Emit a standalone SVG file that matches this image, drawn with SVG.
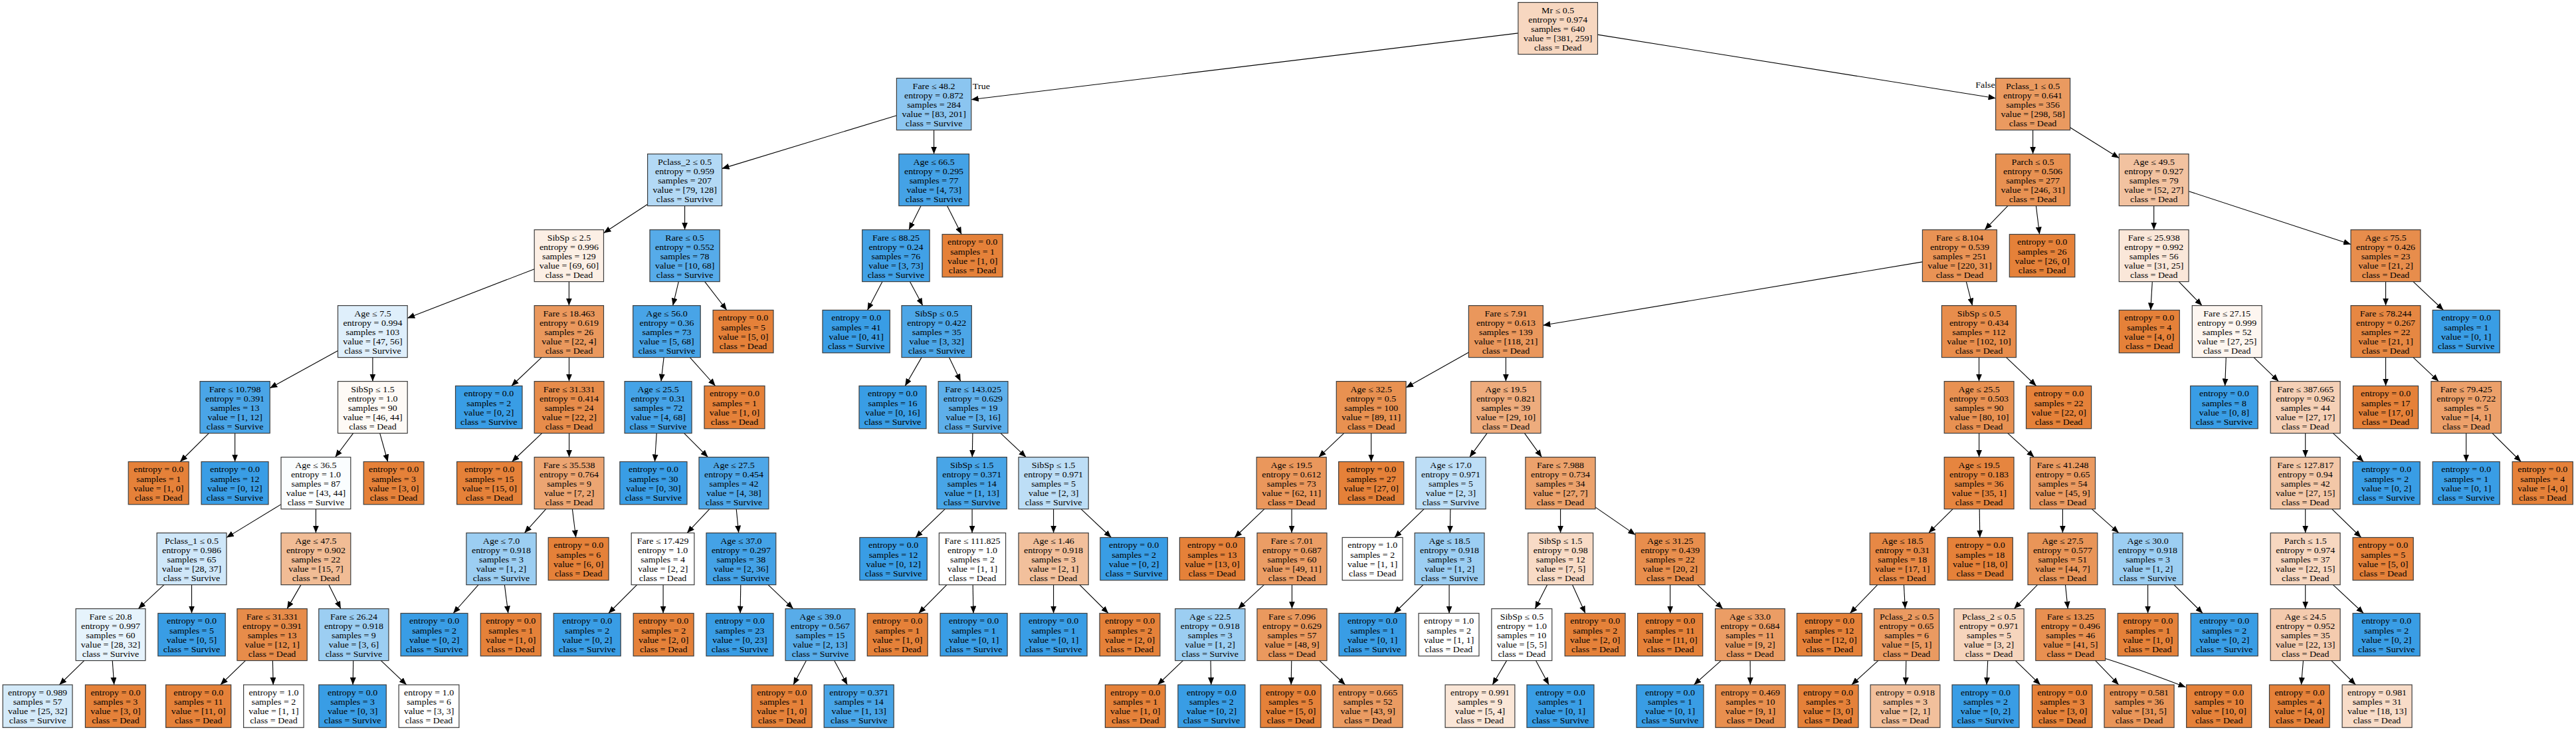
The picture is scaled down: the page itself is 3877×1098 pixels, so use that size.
<svg xmlns="http://www.w3.org/2000/svg" width="3877" height="1098" viewBox="0 0 3877 1098">
<defs>
<marker id="ah" markerUnits="userSpaceOnUse" markerWidth="11" markerHeight="9" refX="11" refY="4.5" orient="auto"><path d="M0,0 L11,4.5 L0,9 z" fill="#000"/></marker>
<style>
.n rect{stroke:#3c3c3c;stroke-width:1.2}
text{font-family:"Liberation Serif","Times New Roman",serif;font-size:14px;text-anchor:middle;fill:#000}
.e path{fill:none;stroke:#000;stroke-width:1.1;marker-end:url(#ah)}
.D{fill:#e58139}.S{fill:#399de5}.W{fill:#ffffff}
</style>
</defs>
<rect width="3877" height="1098" fill="#fff"/>
<g id="edges" class="e">
<path d="M2284.9,49.9L1461.8,149.8"/><path d="M2404.5,52.1L3003.6,147.7"/>
<path d="M1349.4,173.7L1086.6,253.6"/><path d="M1405.6,195.6L1405.6,231.6"/>
<path d="M3059.6,195.6L3059.6,231.6"/><path d="M3115.6,191.7L3189.3,237.8"/>
<path d="M974.6,307.2L908.5,350.5"/><path d="M1030.6,309.6L1030.6,345.6"/>
<path d="M1386.1,309.6L1368,345.6"/><path d="M1425.5,309.6L1447.2,352.5"/>
<path d="M3021.9,309.6L2987.1,345.6"/><path d="M3064.4,309.6L3069.6,352.5"/>
<path d="M3241.7,309.6L3241.7,345.6"/><path d="M3294.1,287.7L3538.1,367.5"/>
<path d="M804.2,404.7L613.2,478.4"/><path d="M856.4,423.6L856.4,459.6"/>
<path d="M1021.3,423.6L1012.7,459.6"/><path d="M1060.7,423.6L1093.8,466.5"/>
<path d="M1328,423.6L1305.5,466.5"/><path d="M1369.4,423.6L1388.7,459.6"/>
<path d="M2893.4,393.9L2322.4,489.3"/><path d="M2959.3,423.6L2968.5,459.6"/>
<path d="M3239.3,423.6L3236.8,466.5"/><path d="M3279.3,423.6L3314.1,459.6"/>
<path d="M3590.6,423.6L3590.6,459.6"/><path d="M3632,423.6L3677.5,466.5"/>
<path d="M508.5,527.4L406.2,583.7"/><path d="M560.9,537.6L560.9,573.6"/>
<path d="M815.1,537.6L769.8,580.5"/><path d="M856.5,537.6L856.5,573.6"/>
<path d="M999.1,537.6L995,573.6"/><path d="M1038.4,537.6L1076.7,580.5"/>
<path d="M1387,537.6L1362.2,580.5"/><path d="M1428.5,537.6L1445.8,573.6"/>
<path d="M2210.4,530.1L2116.1,583.1"/><path d="M2266.4,537.6L2266.4,573.6"/>
<path d="M2978.5,537.6L2978.5,573.6"/><path d="M3019.5,537.6L3064.7,580.5"/>
<path d="M3350.3,537.6L3348.7,580.5"/><path d="M3392.1,537.6L3429.4,573.6"/>
<path d="M3590.6,537.6L3590.6,580.5"/><path d="M3632,537.6L3670.3,573.6"/>
<path d="M314.3,651.6L271.1,694.5"/><path d="M353.6,651.6L353.6,694.5"/>
<path d="M531.6,651.6L504.6,687.6"/><path d="M571.7,651.6L583.7,694.5"/>
<path d="M815.6,651.6L770.5,694.5"/><path d="M856.6,651.6L856.6,687.6"/>
<path d="M988.2,651.6L985.5,694.5"/><path d="M1029.6,651.6L1065.5,687.6"/>
<path d="M1463.9,651.6L1463.3,687.6"/><path d="M1506,651.6L1544.2,687.6"/>
<path d="M2022.7,651.6L1984.8,687.6"/><path d="M2063.7,651.6L2063.7,694.5"/>
<path d="M2238.1,651.6L2211.9,687.6"/><path d="M2294.5,651.6L2320.4,687.6"/>
<path d="M2978.6,651.6L2978.6,687.6"/><path d="M3021.7,651.6L3061.4,687.6"/>
<path d="M3469.7,651.6L3469.7,687.6"/><path d="M3511.4,651.6L3557.3,694.5"/>
<path d="M3711.7,651.6L3711.7,694.5"/><path d="M3751.1,651.6L3794.3,694.5"/>
<path d="M423,758.6L340.9,808.6"/><path d="M475.4,765.6L475.4,801.6"/>
<path d="M821.7,765.6L789.4,801.6"/><path d="M861.4,765.6L866.7,808.5"/>
<path d="M1067.9,765.6L1034.1,801.6"/><path d="M1108.2,765.6L1111.7,801.6"/>
<path d="M1422.3,765.6L1377.9,808.5"/><path d="M1463.1,765.6L1463.1,801.6"/>
<path d="M1585.6,765.6L1585.6,801.6"/><path d="M1627,765.6L1672.5,808.5"/>
<path d="M1902.9,765.6L1858.1,808.5"/><path d="M1944.1,765.6L1944.1,801.6"/>
<path d="M2143.2,765.6L2098.9,808.5"/><path d="M2182.9,765.6L2182.3,801.6"/>
<path d="M2348.6,765.6L2348.6,801.6"/><path d="M2401.1,762.9L2461.3,804.4"/>
<path d="M2939.1,765.6L2902.7,801.6"/><path d="M2979.2,765.6L2979.8,808.5"/>
<path d="M3104.4,765.6L3104.4,801.6"/><path d="M3148.3,765.6L3188.8,801.6"/>
<path d="M3469.7,765.6L3469.7,801.6"/><path d="M3509.7,765.6L3553.7,808.5"/>
<path d="M246.8,879.6L208.2,915.6"/><path d="M288.5,879.6L288.5,922.5"/>
<path d="M452.9,879.6L432.1,915.6"/><path d="M494.9,879.6L512.9,915.6"/>
<path d="M720,879.6L682.1,922.5"/><path d="M759.4,879.6L764.8,922.5"/>
<path d="M958.6,879.6L915.8,922.5"/><path d="M998.1,879.6L998.1,922.5"/>
<path d="M1114.8,879.6L1114.1,922.5"/><path d="M1156.1,879.6L1193.8,915.6"/>
<path d="M1424.9,879.6L1382.6,922.5"/><path d="M1464.2,879.6L1465,922.5"/>
<path d="M1585.6,879.6L1585.6,922.5"/><path d="M1624.9,879.6L1668.1,922.5"/>
<path d="M1902.4,879.6L1863.5,915.6"/><path d="M1944.5,879.6L1944.5,915.6"/>
<path d="M2141.9,879.6L2098.3,922.5"/><path d="M2181.1,879.6L2181.1,922.5"/>
<path d="M2328.7,879.6L2310.4,915.6"/><path d="M2366.5,879.6L2386,922.5"/>
<path d="M2513.7,879.6L2513.7,922.5"/><path d="M2554.8,879.6L2592.8,915.6"/>
<path d="M2825.7,879.6L2784.4,922.5"/><path d="M2865.4,879.6L2867.4,915.6"/>
<path d="M3066.5,879.6L3031.4,915.6"/><path d="M3108.5,879.6L3112.2,915.6"/>
<path d="M3232.6,879.6L3232.6,922.5"/><path d="M3272,879.6L3315.2,922.5"/>
<path d="M3469.7,879.6L3469.7,915.6"/><path d="M3511.4,879.6L3557.3,922.5"/>
<path d="M126.7,993.6L89.4,1030"/><path d="M169.2,993.6L171.7,1030"/>
<path d="M369.4,993.6L331.8,1030"/><path d="M410.4,993.6L411.2,1030"/>
<path d="M531.7,993.6L531.1,1030"/><path d="M573.4,993.6L611.8,1030"/>
<path d="M1213.5,993.6L1194,1030"/><path d="M1255.6,993.6L1275.3,1030"/>
<path d="M1780.5,993.6L1742.3,1030"/><path d="M1822.1,993.6L1822.8,1030"/>
<path d="M1943.8,993.6L1943.2,1030"/><path d="M1985.9,993.6L2024.6,1030"/>
<path d="M2267.6,993.6L2246.3,1030"/><path d="M2311.5,993.6L2331.1,1030"/>
<path d="M2590.3,993.6L2549.5,1030"/><path d="M2634.1,993.6L2634.3,1030"/>
<path d="M2826.8,993.6L2786.8,1030"/><path d="M2868.8,993.6L2868.1,1030"/>
<path d="M2991.7,993.6L2990,1030"/><path d="M3033.4,993.6L3070.8,1030"/>
<path d="M3153.7,993.6L3188.7,1030"/><path d="M3168.6,990.5Q3215,1005 3289.5,1033.5"/>
<path d="M3466.5,993.6L3463.5,1030"/><path d="M3508.8,993.6L3545.3,1030"/>
<text transform="translate(1477 134) scale(1 .84)">True</text>
<text transform="translate(2988 132) scale(1 .84)">False</text>
</g>
<g id="n0" class="n"><rect x="2284.9" y="3.6" width="119.6" height="78" fill="#f7d7c0"/><text transform="translate(2344.7 3.6) scale(1 .84)"><tspan x="0" y="19">Mr ≤ 0.5</tspan><tspan x="0" y="35.8">entropy = 0.974</tspan><tspan x="0" y="52.6">samples = 640</tspan><tspan x="0" y="69.4">value = [381, 259]</tspan><tspan x="0" y="86.2">class = Dead</tspan></text></g>
<g id="n1" class="n"><rect x="1349.4" y="117.6" width="112.4" height="78" fill="#8bc5f0"/><text transform="translate(1405.6 117.6) scale(1 .84)"><tspan x="0" y="19">Fare ≤ 48.2</tspan><tspan x="0" y="35.8">entropy = 0.872</tspan><tspan x="0" y="52.6">samples = 284</tspan><tspan x="0" y="69.4">value = [83, 201]</tspan><tspan x="0" y="86.2">class = Survive</tspan></text></g>
<g id="n2" class="n"><rect x="3003.6" y="117.6" width="112" height="78" fill="#ea9a60"/><text transform="translate(3059.6 117.6) scale(1 .84)"><tspan x="0" y="19">Pclass_1 ≤ 0.5</tspan><tspan x="0" y="35.8">entropy = 0.641</tspan><tspan x="0" y="52.6">samples = 356</tspan><tspan x="0" y="69.4">value = [298, 58]</tspan><tspan x="0" y="86.2">class = Dead</tspan></text></g>
<g id="n3" class="n"><rect x="974.6" y="231.6" width="112" height="78" fill="#b3d9f5"/><text transform="translate(1030.6 231.6) scale(1 .84)"><tspan x="0" y="19">Pclass_2 ≤ 0.5</tspan><tspan x="0" y="35.8">entropy = 0.959</tspan><tspan x="0" y="52.6">samples = 207</tspan><tspan x="0" y="69.4">value = [79, 128]</tspan><tspan x="0" y="86.2">class = Survive</tspan></text></g>
<g id="n4" class="n"><rect x="1352.8" y="231.6" width="105.7" height="78" fill="#44a2e6"/><text transform="translate(1405.6 231.6) scale(1 .84)"><tspan x="0" y="19">Age ≤ 66.5</tspan><tspan x="0" y="35.8">entropy = 0.295</tspan><tspan x="0" y="52.6">samples = 77</tspan><tspan x="0" y="69.4">value = [4, 73]</tspan><tspan x="0" y="86.2">class = Survive</tspan></text></g>
<g id="n5" class="n"><rect x="3003.6" y="231.6" width="112" height="78" fill="#e89152"/><text transform="translate(3059.6 231.6) scale(1 .84)"><tspan x="0" y="19">Parch ≤ 0.5</tspan><tspan x="0" y="35.8">entropy = 0.506</tspan><tspan x="0" y="52.6">samples = 277</tspan><tspan x="0" y="69.4">value = [246, 31]</tspan><tspan x="0" y="86.2">class = Dead</tspan></text></g>
<g id="n6" class="n"><rect x="3189.3" y="231.6" width="104.8" height="78" fill="#f2c2a0"/><text transform="translate(3241.7 231.6) scale(1 .84)"><tspan x="0" y="19">Age ≤ 49.5</tspan><tspan x="0" y="35.8">entropy = 0.927</tspan><tspan x="0" y="52.6">samples = 79</tspan><tspan x="0" y="69.4">value = [52, 27]</tspan><tspan x="0" y="86.2">class = Dead</tspan></text></g>
<g id="n7" class="n"><rect x="804.2" y="345.6" width="104.3" height="78" fill="#fcefe5"/><text transform="translate(856.4 345.6) scale(1 .84)"><tspan x="0" y="19">SibSp ≤ 2.5</tspan><tspan x="0" y="35.8">entropy = 0.996</tspan><tspan x="0" y="52.6">samples = 129</tspan><tspan x="0" y="69.4">value = [69, 60]</tspan><tspan x="0" y="86.2">class = Dead</tspan></text></g>
<g id="n8" class="n"><rect x="978" y="345.6" width="105.2" height="78" fill="#56abe9"/><text transform="translate(1030.6 345.6) scale(1 .84)"><tspan x="0" y="19">Rare ≤ 0.5</tspan><tspan x="0" y="35.8">entropy = 0.552</tspan><tspan x="0" y="52.6">samples = 78</tspan><tspan x="0" y="69.4">value = [10, 68]</tspan><tspan x="0" y="86.2">class = Survive</tspan></text></g>
<g id="n9" class="n"><rect x="1297.7" y="345.6" width="101.4" height="78" fill="#41a1e6"/><text transform="translate(1348.4 345.6) scale(1 .84)"><tspan x="0" y="19">Fare ≤ 88.25</tspan><tspan x="0" y="35.8">entropy = 0.24</tspan><tspan x="0" y="52.6">samples = 76</tspan><tspan x="0" y="69.4">value = [3, 73]</tspan><tspan x="0" y="86.2">class = Survive</tspan></text></g>
<g id="n10" class="n"><rect class="D" x="1418.1" y="352.45" width="90.9" height="64.3"/><text transform="translate(1463.6 352.45) scale(1 .84)"><tspan x="0" y="19">entropy = 0.0</tspan><tspan x="0" y="35.8">samples = 1</tspan><tspan x="0" y="52.6">value = [1, 0]</tspan><tspan x="0" y="69.4">class = Dead</tspan></text></g>
<g id="n11" class="n"><rect x="2893.4" y="345.6" width="111.9" height="78" fill="#e99355"/><text transform="translate(2949.4 345.6) scale(1 .84)"><tspan x="0" y="19">Fare ≤ 8.104</tspan><tspan x="0" y="35.8">entropy = 0.539</tspan><tspan x="0" y="52.6">samples = 251</tspan><tspan x="0" y="69.4">value = [220, 31]</tspan><tspan x="0" y="86.2">class = Dead</tspan></text></g>
<g id="n12" class="n"><rect class="D" x="3024.3" y="352.45" width="98.5" height="64.3"/><text transform="translate(3073.6 352.45) scale(1 .84)"><tspan x="0" y="19">entropy = 0.0</tspan><tspan x="0" y="35.8">samples = 26</tspan><tspan x="0" y="52.6">value = [26, 0]</tspan><tspan x="0" y="69.4">class = Dead</tspan></text></g>
<g id="n13" class="n"><rect x="3189.3" y="345.6" width="104.8" height="78" fill="#fae7d9"/><text transform="translate(3241.7 345.6) scale(1 .84)"><tspan x="0" y="19">Fare ≤ 25.938</tspan><tspan x="0" y="35.8">entropy = 0.992</tspan><tspan x="0" y="52.6">samples = 56</tspan><tspan x="0" y="69.4">value = [31, 25]</tspan><tspan x="0" y="86.2">class = Dead</tspan></text></g>
<g id="n14" class="n"><rect x="3538.1" y="345.6" width="104.9" height="78" fill="#e78d4c"/><text transform="translate(3590.6 345.6) scale(1 .84)"><tspan x="0" y="19">Age ≤ 75.5</tspan><tspan x="0" y="35.8">entropy = 0.426</tspan><tspan x="0" y="52.6">samples = 23</tspan><tspan x="0" y="69.4">value = [21, 2]</tspan><tspan x="0" y="86.2">class = Dead</tspan></text></g>
<g id="n15" class="n"><rect x="508.5" y="459.6" width="104.7" height="78" fill="#dfeffb"/><text transform="translate(560.9 459.6) scale(1 .84)"><tspan x="0" y="19">Age ≤ 7.5</tspan><tspan x="0" y="35.8">entropy = 0.994</tspan><tspan x="0" y="52.6">samples = 103</tspan><tspan x="0" y="69.4">value = [47, 56]</tspan><tspan x="0" y="86.2">class = Survive</tspan></text></g>
<g id="n16" class="n"><rect x="804.2" y="459.6" width="104.3" height="78" fill="#ea985d"/><text transform="translate(856.4 459.6) scale(1 .84)"><tspan x="0" y="19">Fare ≤ 18.463</tspan><tspan x="0" y="35.8">entropy = 0.619</tspan><tspan x="0" y="52.6">samples = 26</tspan><tspan x="0" y="69.4">value = [22, 4]</tspan><tspan x="0" y="86.2">class = Dead</tspan></text></g>
<g id="n17" class="n"><rect x="952.7" y="459.6" width="101.5" height="78" fill="#48a4e7"/><text transform="translate(1003.5 459.6) scale(1 .84)"><tspan x="0" y="19">Age ≤ 56.0</tspan><tspan x="0" y="35.8">entropy = 0.36</tspan><tspan x="0" y="52.6">samples = 73</tspan><tspan x="0" y="69.4">value = [5, 68]</tspan><tspan x="0" y="86.2">class = Survive</tspan></text></g>
<g id="n18" class="n"><rect class="D" x="1073.1" y="466.45" width="90.9" height="64.3"/><text transform="translate(1118.6 466.45) scale(1 .84)"><tspan x="0" y="19">entropy = 0.0</tspan><tspan x="0" y="35.8">samples = 5</tspan><tspan x="0" y="52.6">value = [5, 0]</tspan><tspan x="0" y="69.4">class = Dead</tspan></text></g>
<g id="n19" class="n"><rect class="S" x="1238" y="466.45" width="101.3" height="64.3"/><text transform="translate(1288.7 466.45) scale(1 .84)"><tspan x="0" y="19">entropy = 0.0</tspan><tspan x="0" y="35.8">samples = 41</tspan><tspan x="0" y="52.6">value = [0, 41]</tspan><tspan x="0" y="69.4">class = Survive</tspan></text></g>
<g id="n20" class="n"><rect x="1357" y="459.6" width="105.3" height="78" fill="#4ca6e7"/><text transform="translate(1409.7 459.6) scale(1 .84)"><tspan x="0" y="19">SibSp ≤ 0.5</tspan><tspan x="0" y="35.8">entropy = 0.422</tspan><tspan x="0" y="52.6">samples = 35</tspan><tspan x="0" y="69.4">value = [3, 32]</tspan><tspan x="0" y="86.2">class = Survive</tspan></text></g>
<g id="n21" class="n"><rect x="2210.4" y="459.6" width="112" height="78" fill="#ea975c"/><text transform="translate(2266.4 459.6) scale(1 .84)"><tspan x="0" y="19">Fare ≤ 7.91</tspan><tspan x="0" y="35.8">entropy = 0.613</tspan><tspan x="0" y="52.6">samples = 139</tspan><tspan x="0" y="69.4">value = [118, 21]</tspan><tspan x="0" y="86.2">class = Dead</tspan></text></g>
<g id="n22" class="n"><rect x="2922.4" y="459.6" width="112" height="78" fill="#e88d4c"/><text transform="translate(2978.4 459.6) scale(1 .84)"><tspan x="0" y="19">SibSp ≤ 0.5</tspan><tspan x="0" y="35.8">entropy = 0.434</tspan><tspan x="0" y="52.6">samples = 112</tspan><tspan x="0" y="69.4">value = [102, 10]</tspan><tspan x="0" y="86.2">class = Dead</tspan></text></g>
<g id="n23" class="n"><rect class="D" x="3189.3" y="466.45" width="91" height="64.3"/><text transform="translate(3234.8 466.45) scale(1 .84)"><tspan x="0" y="19">entropy = 0.0</tspan><tspan x="0" y="35.8">samples = 4</tspan><tspan x="0" y="52.6">value = [4, 0]</tspan><tspan x="0" y="69.4">class = Dead</tspan></text></g>
<g id="n24" class="n"><rect x="3299.3" y="459.6" width="104.9" height="78" fill="#fdf6f0"/><text transform="translate(3351.8 459.6) scale(1 .84)"><tspan x="0" y="19">Fare ≤ 27.15</tspan><tspan x="0" y="35.8">entropy = 0.999</tspan><tspan x="0" y="52.6">samples = 52</tspan><tspan x="0" y="69.4">value = [27, 25]</tspan><tspan x="0" y="86.2">class = Dead</tspan></text></g>
<g id="n25" class="n"><rect x="3538.1" y="459.6" width="104.9" height="78" fill="#e68742"/><text transform="translate(3590.6 459.6) scale(1 .84)"><tspan x="0" y="19">Fare ≤ 78.244</tspan><tspan x="0" y="35.8">entropy = 0.267</tspan><tspan x="0" y="52.6">samples = 22</tspan><tspan x="0" y="69.4">value = [21, 1]</tspan><tspan x="0" y="86.2">class = Dead</tspan></text></g>
<g id="n26" class="n"><rect class="S" x="3661.2" y="466.45" width="101" height="64.3"/><text transform="translate(3711.7 466.45) scale(1 .84)"><tspan x="0" y="19">entropy = 0.0</tspan><tspan x="0" y="35.8">samples = 1</tspan><tspan x="0" y="52.6">value = [0, 1]</tspan><tspan x="0" y="69.4">class = Survive</tspan></text></g>
<g id="n27" class="n"><rect x="301" y="573.6" width="105.2" height="78" fill="#4aa5e7"/><text transform="translate(353.6 573.6) scale(1 .84)"><tspan x="0" y="19">Fare ≤ 10.798</tspan><tspan x="0" y="35.8">entropy = 0.391</tspan><tspan x="0" y="52.6">samples = 13</tspan><tspan x="0" y="69.4">value = [1, 12]</tspan><tspan x="0" y="86.2">class = Survive</tspan></text></g>
<g id="n28" class="n"><rect x="508.5" y="573.6" width="104.7" height="78" fill="#fefaf6"/><text transform="translate(560.9 573.6) scale(1 .84)"><tspan x="0" y="19">SibSp ≤ 1.5</tspan><tspan x="0" y="35.8">entropy = 1.0</tspan><tspan x="0" y="52.6">samples = 90</tspan><tspan x="0" y="69.4">value = [46, 44]</tspan><tspan x="0" y="86.2">class = Dead</tspan></text></g>
<g id="n29" class="n"><rect class="S" x="685.5" y="580.45" width="100.5" height="64.3"/><text transform="translate(735.8 580.45) scale(1 .84)"><tspan x="0" y="19">entropy = 0.0</tspan><tspan x="0" y="35.8">samples = 2</tspan><tspan x="0" y="52.6">value = [0, 2]</tspan><tspan x="0" y="69.4">class = Survive</tspan></text></g>
<g id="n30" class="n"><rect x="804.2" y="573.6" width="104.8" height="78" fill="#e78c4b"/><text transform="translate(856.6 573.6) scale(1 .84)"><tspan x="0" y="19">Fare ≤ 31.331</tspan><tspan x="0" y="35.8">entropy = 0.414</tspan><tspan x="0" y="52.6">samples = 24</tspan><tspan x="0" y="69.4">value = [22, 2]</tspan><tspan x="0" y="86.2">class = Dead</tspan></text></g>
<g id="n31" class="n"><rect x="940.1" y="573.6" width="101" height="78" fill="#45a3e7"/><text transform="translate(990.6 573.6) scale(1 .84)"><tspan x="0" y="19">Age ≤ 25.5</tspan><tspan x="0" y="35.8">entropy = 0.31</tspan><tspan x="0" y="52.6">samples = 72</tspan><tspan x="0" y="69.4">value = [4, 68]</tspan><tspan x="0" y="86.2">class = Survive</tspan></text></g>
<g id="n32" class="n"><rect class="D" x="1060" y="580.45" width="91" height="64.3"/><text transform="translate(1105.5 580.45) scale(1 .84)"><tspan x="0" y="19">entropy = 0.0</tspan><tspan x="0" y="35.8">samples = 1</tspan><tspan x="0" y="52.6">value = [1, 0]</tspan><tspan x="0" y="69.4">class = Dead</tspan></text></g>
<g id="n33" class="n"><rect class="S" x="1293" y="580.45" width="101" height="64.3"/><text transform="translate(1343.5 580.45) scale(1 .84)"><tspan x="0" y="19">entropy = 0.0</tspan><tspan x="0" y="35.8">samples = 16</tspan><tspan x="0" y="52.6">value = [0, 16]</tspan><tspan x="0" y="69.4">class = Survive</tspan></text></g>
<g id="n34" class="n"><rect x="1412.2" y="573.6" width="104.8" height="78" fill="#5eafea"/><text transform="translate(1464.6 573.6) scale(1 .84)"><tspan x="0" y="19">Fare ≤ 143.025</tspan><tspan x="0" y="35.8">entropy = 0.629</tspan><tspan x="0" y="52.6">samples = 19</tspan><tspan x="0" y="69.4">value = [3, 16]</tspan><tspan x="0" y="86.2">class = Survive</tspan></text></g>
<g id="n35" class="n"><rect x="2011.3" y="573.6" width="104.8" height="78" fill="#e89151"/><text transform="translate(2063.7 573.6) scale(1 .84)"><tspan x="0" y="19">Age ≤ 32.5</tspan><tspan x="0" y="35.8">entropy = 0.5</tspan><tspan x="0" y="52.6">samples = 100</tspan><tspan x="0" y="69.4">value = [89, 11]</tspan><tspan x="0" y="86.2">class = Dead</tspan></text></g>
<g id="n36" class="n"><rect x="2213.8" y="573.6" width="105.2" height="78" fill="#eeac7d"/><text transform="translate(2266.4 573.6) scale(1 .84)"><tspan x="0" y="19">Age ≤ 19.5</tspan><tspan x="0" y="35.8">entropy = 0.821</tspan><tspan x="0" y="52.6">samples = 39</tspan><tspan x="0" y="69.4">value = [29, 10]</tspan><tspan x="0" y="86.2">class = Dead</tspan></text></g>
<g id="n37" class="n"><rect x="2926.2" y="573.6" width="104.8" height="78" fill="#e89152"/><text transform="translate(2978.6 573.6) scale(1 .84)"><tspan x="0" y="19">Age ≤ 25.5</tspan><tspan x="0" y="35.8">entropy = 0.503</tspan><tspan x="0" y="52.6">samples = 90</tspan><tspan x="0" y="69.4">value = [80, 10]</tspan><tspan x="0" y="86.2">class = Dead</tspan></text></g>
<g id="n38" class="n"><rect class="D" x="3049.5" y="580.45" width="98.1" height="64.3"/><text transform="translate(3098.6 580.45) scale(1 .84)"><tspan x="0" y="19">entropy = 0.0</tspan><tspan x="0" y="35.8">samples = 22</tspan><tspan x="0" y="52.6">value = [22, 0]</tspan><tspan x="0" y="69.4">class = Dead</tspan></text></g>
<g id="n39" class="n"><rect class="S" x="3296.7" y="580.45" width="101.5" height="64.3"/><text transform="translate(3347.5 580.45) scale(1 .84)"><tspan x="0" y="19">entropy = 0.0</tspan><tspan x="0" y="35.8">samples = 8</tspan><tspan x="0" y="52.6">value = [0, 8]</tspan><tspan x="0" y="69.4">class = Survive</tspan></text></g>
<g id="n40" class="n"><rect x="3417.2" y="573.6" width="104.9" height="78" fill="#f5d0b6"/><text transform="translate(3469.7 573.6) scale(1 .84)"><tspan x="0" y="19">Fare ≤ 387.665</tspan><tspan x="0" y="35.8">entropy = 0.962</tspan><tspan x="0" y="52.6">samples = 44</tspan><tspan x="0" y="69.4">value = [27, 17]</tspan><tspan x="0" y="86.2">class = Dead</tspan></text></g>
<g id="n41" class="n"><rect class="D" x="3541.5" y="580.45" width="98.1" height="64.3"/><text transform="translate(3590.6 580.45) scale(1 .84)"><tspan x="0" y="19">entropy = 0.0</tspan><tspan x="0" y="35.8">samples = 17</tspan><tspan x="0" y="52.6">value = [17, 0]</tspan><tspan x="0" y="69.4">class = Dead</tspan></text></g>
<g id="n42" class="n"><rect x="3659" y="573.6" width="105.4" height="78" fill="#eca06a"/><text transform="translate(3711.7 573.6) scale(1 .84)"><tspan x="0" y="19">Fare ≤ 79.425</tspan><tspan x="0" y="35.8">entropy = 0.722</tspan><tspan x="0" y="52.6">samples = 5</tspan><tspan x="0" y="69.4">value = [4, 1]</tspan><tspan x="0" y="86.2">class = Dead</tspan></text></g>
<g id="n43" class="n"><rect class="D" x="193.2" y="694.45" width="90.9" height="64.3"/><text transform="translate(238.7 694.45) scale(1 .84)"><tspan x="0" y="19">entropy = 0.0</tspan><tspan x="0" y="35.8">samples = 1</tspan><tspan x="0" y="52.6">value = [1, 0]</tspan><tspan x="0" y="69.4">class = Dead</tspan></text></g>
<g id="n44" class="n"><rect class="S" x="303" y="694.45" width="101" height="64.3"/><text transform="translate(353.5 694.45) scale(1 .84)"><tspan x="0" y="19">entropy = 0.0</tspan><tspan x="0" y="35.8">samples = 12</tspan><tspan x="0" y="52.6">value = [0, 12]</tspan><tspan x="0" y="69.4">class = Survive</tspan></text></g>
<g id="n45" class="n"><rect x="423" y="687.6" width="104.8" height="78" fill="#fafdfe"/><text transform="translate(475.4 687.6) scale(1 .84)"><tspan x="0" y="19">Age ≤ 36.5</tspan><tspan x="0" y="35.8">entropy = 1.0</tspan><tspan x="0" y="52.6">samples = 87</tspan><tspan x="0" y="69.4">value = [43, 44]</tspan><tspan x="0" y="86.2">class = Survive</tspan></text></g>
<g id="n46" class="n"><rect class="D" x="547.2" y="694.45" width="90.8" height="64.3"/><text transform="translate(592.6 694.45) scale(1 .84)"><tspan x="0" y="19">entropy = 0.0</tspan><tspan x="0" y="35.8">samples = 3</tspan><tspan x="0" y="52.6">value = [3, 0]</tspan><tspan x="0" y="69.4">class = Dead</tspan></text></g>
<g id="n47" class="n"><rect class="D" x="687.6" y="694.45" width="98" height="64.3"/><text transform="translate(736.6 694.45) scale(1 .84)"><tspan x="0" y="19">entropy = 0.0</tspan><tspan x="0" y="35.8">samples = 15</tspan><tspan x="0" y="52.6">value = [15, 0]</tspan><tspan x="0" y="69.4">class = Dead</tspan></text></g>
<g id="n48" class="n"><rect x="804.2" y="687.6" width="104.8" height="78" fill="#eca572"/><text transform="translate(856.6 687.6) scale(1 .84)"><tspan x="0" y="19">Fare ≤ 35.538</tspan><tspan x="0" y="35.8">entropy = 0.764</tspan><tspan x="0" y="52.6">samples = 9</tspan><tspan x="0" y="69.4">value = [7, 2]</tspan><tspan x="0" y="86.2">class = Dead</tspan></text></g>
<g id="n49" class="n"><rect class="S" x="932.9" y="694.45" width="101.1" height="64.3"/><text transform="translate(983.5 694.45) scale(1 .84)"><tspan x="0" y="19">entropy = 0.0</tspan><tspan x="0" y="35.8">samples = 30</tspan><tspan x="0" y="52.6">value = [0, 30]</tspan><tspan x="0" y="69.4">class = Survive</tspan></text></g>
<g id="n50" class="n"><rect x="1052" y="687.6" width="104.9" height="78" fill="#4ea7e8"/><text transform="translate(1104.5 687.6) scale(1 .84)"><tspan x="0" y="19">Age ≤ 27.5</tspan><tspan x="0" y="35.8">entropy = 0.454</tspan><tspan x="0" y="52.6">samples = 42</tspan><tspan x="0" y="69.4">value = [4, 38]</tspan><tspan x="0" y="86.2">class = Survive</tspan></text></g>
<g id="n51" class="n"><rect x="1410" y="687.6" width="105.3" height="78" fill="#48a5e7"/><text transform="translate(1462.7 687.6) scale(1 .84)"><tspan x="0" y="19">SibSp ≤ 1.5</tspan><tspan x="0" y="35.8">entropy = 0.371</tspan><tspan x="0" y="52.6">samples = 14</tspan><tspan x="0" y="69.4">value = [1, 13]</tspan><tspan x="0" y="86.2">class = Survive</tspan></text></g>
<g id="n52" class="n"><rect x="1533" y="687.6" width="105.2" height="78" fill="#bddef6"/><text transform="translate(1585.6 687.6) scale(1 .84)"><tspan x="0" y="19">SibSp ≤ 1.5</tspan><tspan x="0" y="35.8">entropy = 0.971</tspan><tspan x="0" y="52.6">samples = 5</tspan><tspan x="0" y="69.4">value = [2, 3]</tspan><tspan x="0" y="86.2">class = Survive</tspan></text></g>
<g id="n53" class="n"><rect x="1891.2" y="687.6" width="105" height="78" fill="#ea975c"/><text transform="translate(1943.7 687.6) scale(1 .84)"><tspan x="0" y="19">Age ≤ 19.5</tspan><tspan x="0" y="35.8">entropy = 0.612</tspan><tspan x="0" y="52.6">samples = 73</tspan><tspan x="0" y="69.4">value = [62, 11]</tspan><tspan x="0" y="86.2">class = Dead</tspan></text></g>
<g id="n54" class="n"><rect class="D" x="2014.7" y="694.45" width="98.1" height="64.3"/><text transform="translate(2063.8 694.45) scale(1 .84)"><tspan x="0" y="19">entropy = 0.0</tspan><tspan x="0" y="35.8">samples = 27</tspan><tspan x="0" y="52.6">value = [27, 0]</tspan><tspan x="0" y="69.4">class = Dead</tspan></text></g>
<g id="n55" class="n"><rect x="2130.9" y="687.6" width="105.2" height="78" fill="#bddef6"/><text transform="translate(2183.5 687.6) scale(1 .84)"><tspan x="0" y="19">Age ≤ 17.0</tspan><tspan x="0" y="35.8">entropy = 0.971</tspan><tspan x="0" y="52.6">samples = 5</tspan><tspan x="0" y="69.4">value = [2, 3]</tspan><tspan x="0" y="86.2">class = Survive</tspan></text></g>
<g id="n56" class="n"><rect x="2295.9" y="687.6" width="105.2" height="78" fill="#eca26c"/><text transform="translate(2348.5 687.6) scale(1 .84)"><tspan x="0" y="19">Fare ≤ 7.988</tspan><tspan x="0" y="35.8">entropy = 0.734</tspan><tspan x="0" y="52.6">samples = 34</tspan><tspan x="0" y="69.4">value = [27, 7]</tspan><tspan x="0" y="86.2">class = Dead</tspan></text></g>
<g id="n57" class="n"><rect x="2926.2" y="687.6" width="104.8" height="78" fill="#e6853f"/><text transform="translate(2978.6 687.6) scale(1 .84)"><tspan x="0" y="19">Age ≤ 19.5</tspan><tspan x="0" y="35.8">entropy = 0.183</tspan><tspan x="0" y="52.6">samples = 36</tspan><tspan x="0" y="69.4">value = [35, 1]</tspan><tspan x="0" y="86.2">class = Dead</tspan></text></g>
<g id="n58" class="n"><rect x="3055.4" y="687.6" width="98.1" height="78" fill="#ea9a61"/><text transform="translate(3104.5 687.6) scale(1 .84)"><tspan x="0" y="19">Fare ≤ 41.248</tspan><tspan x="0" y="35.8">entropy = 0.65</tspan><tspan x="0" y="52.6">samples = 54</tspan><tspan x="0" y="69.4">value = [45, 9]</tspan><tspan x="0" y="86.2">class = Dead</tspan></text></g>
<g id="n59" class="n"><rect x="3417.2" y="687.6" width="104.9" height="78" fill="#f3c7a7"/><text transform="translate(3469.7 687.6) scale(1 .84)"><tspan x="0" y="19">Fare ≤ 127.817</tspan><tspan x="0" y="35.8">entropy = 0.94</tspan><tspan x="0" y="52.6">samples = 42</tspan><tspan x="0" y="69.4">value = [27, 15]</tspan><tspan x="0" y="86.2">class = Dead</tspan></text></g>
<g id="n60" class="n"><rect class="S" x="3541.1" y="694.45" width="101.1" height="64.3"/><text transform="translate(3591.7 694.45) scale(1 .84)"><tspan x="0" y="19">entropy = 0.0</tspan><tspan x="0" y="35.8">samples = 2</tspan><tspan x="0" y="52.6">value = [0, 2]</tspan><tspan x="0" y="69.4">class = Survive</tspan></text></g>
<g id="n61" class="n"><rect class="S" x="3661.2" y="694.45" width="101" height="64.3"/><text transform="translate(3711.7 694.45) scale(1 .84)"><tspan x="0" y="19">entropy = 0.0</tspan><tspan x="0" y="35.8">samples = 1</tspan><tspan x="0" y="52.6">value = [0, 1]</tspan><tspan x="0" y="69.4">class = Survive</tspan></text></g>
<g id="n62" class="n"><rect class="D" x="3781.2" y="694.45" width="91.1" height="64.3"/><text transform="translate(3826.8 694.45) scale(1 .84)"><tspan x="0" y="19">entropy = 0.0</tspan><tspan x="0" y="35.8">samples = 4</tspan><tspan x="0" y="52.6">value = [4, 0]</tspan><tspan x="0" y="69.4">class = Dead</tspan></text></g>
<g id="n63" class="n"><rect x="236.1" y="801.6" width="104.8" height="78" fill="#cfe7f9"/><text transform="translate(288.5 801.6) scale(1 .84)"><tspan x="0" y="19">Pclass_1 ≤ 0.5</tspan><tspan x="0" y="35.8">entropy = 0.986</tspan><tspan x="0" y="52.6">samples = 65</tspan><tspan x="0" y="69.4">value = [28, 37]</tspan><tspan x="0" y="86.2">class = Survive</tspan></text></g>
<g id="n64" class="n"><rect x="423" y="801.6" width="104.8" height="78" fill="#f1bc95"/><text transform="translate(475.4 801.6) scale(1 .84)"><tspan x="0" y="19">Age ≤ 47.5</tspan><tspan x="0" y="35.8">entropy = 0.902</tspan><tspan x="0" y="52.6">samples = 22</tspan><tspan x="0" y="69.4">value = [15, 7]</tspan><tspan x="0" y="86.2">class = Dead</tspan></text></g>
<g id="n65" class="n"><rect x="701.9" y="801.6" width="105.2" height="78" fill="#9ccef2"/><text transform="translate(754.5 801.6) scale(1 .84)"><tspan x="0" y="19">Age ≤ 7.0</tspan><tspan x="0" y="35.8">entropy = 0.918</tspan><tspan x="0" y="52.6">samples = 3</tspan><tspan x="0" y="69.4">value = [1, 2]</tspan><tspan x="0" y="86.2">class = Survive</tspan></text></g>
<g id="n66" class="n"><rect class="D" x="825.2" y="808.45" width="90.9" height="64.3"/><text transform="translate(870.7 808.45) scale(1 .84)"><tspan x="0" y="19">entropy = 0.0</tspan><tspan x="0" y="35.8">samples = 6</tspan><tspan x="0" y="52.6">value = [6, 0]</tspan><tspan x="0" y="69.4">class = Dead</tspan></text></g>
<g id="n67" class="n"><rect class="W" x="950.2" y="801.6" width="94.7" height="78"/><text transform="translate(997.6 801.6) scale(1 .84)"><tspan x="0" y="19">Fare ≤ 17.429</tspan><tspan x="0" y="35.8">entropy = 1.0</tspan><tspan x="0" y="52.6">samples = 4</tspan><tspan x="0" y="69.4">value = [2, 2]</tspan><tspan x="0" y="86.2">class = Dead</tspan></text></g>
<g id="n68" class="n"><rect x="1063" y="801.6" width="104.8" height="78" fill="#44a2e6"/><text transform="translate(1115.4 801.6) scale(1 .84)"><tspan x="0" y="19">Age ≤ 37.0</tspan><tspan x="0" y="35.8">entropy = 0.297</tspan><tspan x="0" y="52.6">samples = 38</tspan><tspan x="0" y="69.4">value = [2, 36]</tspan><tspan x="0" y="86.2">class = Survive</tspan></text></g>
<g id="n69" class="n"><rect class="S" x="1293.9" y="808.45" width="101.4" height="64.3"/><text transform="translate(1344.6 808.45) scale(1 .84)"><tspan x="0" y="19">entropy = 0.0</tspan><tspan x="0" y="35.8">samples = 12</tspan><tspan x="0" y="52.6">value = [0, 12]</tspan><tspan x="0" y="69.4">class = Survive</tspan></text></g>
<g id="n70" class="n"><rect class="W" x="1413.4" y="801.6" width="100.2" height="78"/><text transform="translate(1463.5 801.6) scale(1 .84)"><tspan x="0" y="19">Fare ≤ 111.825</tspan><tspan x="0" y="35.8">entropy = 1.0</tspan><tspan x="0" y="52.6">samples = 2</tspan><tspan x="0" y="69.4">value = [1, 1]</tspan><tspan x="0" y="86.2">class = Dead</tspan></text></g>
<g id="n71" class="n"><rect x="1533" y="801.6" width="105.2" height="78" fill="#f2c09c"/><text transform="translate(1585.6 801.6) scale(1 .84)"><tspan x="0" y="19">Age ≤ 1.46</tspan><tspan x="0" y="35.8">entropy = 0.918</tspan><tspan x="0" y="52.6">samples = 3</tspan><tspan x="0" y="69.4">value = [2, 1]</tspan><tspan x="0" y="86.2">class = Dead</tspan></text></g>
<g id="n72" class="n"><rect class="S" x="1655.9" y="808.45" width="101.4" height="64.3"/><text transform="translate(1706.6 808.45) scale(1 .84)"><tspan x="0" y="19">entropy = 0.0</tspan><tspan x="0" y="35.8">samples = 2</tspan><tspan x="0" y="52.6">value = [0, 2]</tspan><tspan x="0" y="69.4">class = Survive</tspan></text></g>
<g id="n73" class="n"><rect class="D" x="1775.4" y="808.45" width="98.1" height="64.3"/><text transform="translate(1824.5 808.45) scale(1 .84)"><tspan x="0" y="19">entropy = 0.0</tspan><tspan x="0" y="35.8">samples = 13</tspan><tspan x="0" y="52.6">value = [13, 0]</tspan><tspan x="0" y="69.4">class = Dead</tspan></text></g>
<g id="n74" class="n"><rect x="1892" y="801.6" width="105" height="78" fill="#eb9d65"/><text transform="translate(1944.5 801.6) scale(1 .84)"><tspan x="0" y="19">Fare ≤ 7.01</tspan><tspan x="0" y="35.8">entropy = 0.687</tspan><tspan x="0" y="52.6">samples = 60</tspan><tspan x="0" y="69.4">value = [49, 11]</tspan><tspan x="0" y="86.2">class = Dead</tspan></text></g>
<g id="n75" class="n"><rect class="W" x="2020.2" y="808.45" width="90.9" height="64.3"/><text transform="translate(2065.7 808.45) scale(1 .84)"><tspan x="0" y="19">entropy = 1.0</tspan><tspan x="0" y="35.8">samples = 2</tspan><tspan x="0" y="52.6">value = [1, 1]</tspan><tspan x="0" y="69.4">class = Dead</tspan></text></g>
<g id="n76" class="n"><rect x="2129.2" y="801.6" width="104.8" height="78" fill="#9ccef2"/><text transform="translate(2181.6 801.6) scale(1 .84)"><tspan x="0" y="19">Age ≤ 18.5</tspan><tspan x="0" y="35.8">entropy = 0.918</tspan><tspan x="0" y="52.6">samples = 3</tspan><tspan x="0" y="69.4">value = [1, 2]</tspan><tspan x="0" y="86.2">class = Survive</tspan></text></g>
<g id="n77" class="n"><rect x="2299.7" y="801.6" width="98" height="78" fill="#f8dbc6"/><text transform="translate(2348.7 801.6) scale(1 .84)"><tspan x="0" y="19">SibSp ≤ 1.5</tspan><tspan x="0" y="35.8">entropy = 0.98</tspan><tspan x="0" y="52.6">samples = 12</tspan><tspan x="0" y="69.4">value = [7, 5]</tspan><tspan x="0" y="86.2">class = Dead</tspan></text></g>
<g id="n78" class="n"><rect x="2461.3" y="801.6" width="104.8" height="78" fill="#e88e4d"/><text transform="translate(2513.7 801.6) scale(1 .84)"><tspan x="0" y="19">Age ≤ 31.25</tspan><tspan x="0" y="35.8">entropy = 0.439</tspan><tspan x="0" y="52.6">samples = 22</tspan><tspan x="0" y="69.4">value = [20, 2]</tspan><tspan x="0" y="86.2">class = Dead</tspan></text></g>
<g id="n79" class="n"><rect x="2814.2" y="801.6" width="98.1" height="78" fill="#e78845"/><text transform="translate(2863.3 801.6) scale(1 .84)"><tspan x="0" y="19">Age ≤ 18.5</tspan><tspan x="0" y="35.8">entropy = 0.31</tspan><tspan x="0" y="52.6">samples = 18</tspan><tspan x="0" y="69.4">value = [17, 1]</tspan><tspan x="0" y="86.2">class = Dead</tspan></text></g>
<g id="n80" class="n"><rect class="D" x="2931.2" y="808.45" width="98.1" height="64.3"/><text transform="translate(2980.3 808.45) scale(1 .84)"><tspan x="0" y="19">entropy = 0.0</tspan><tspan x="0" y="35.8">samples = 18</tspan><tspan x="0" y="52.6">value = [18, 0]</tspan><tspan x="0" y="69.4">class = Dead</tspan></text></g>
<g id="n81" class="n"><rect x="3052" y="801.6" width="104.8" height="78" fill="#e99558"/><text transform="translate(3104.4 801.6) scale(1 .84)"><tspan x="0" y="19">Age ≤ 27.5</tspan><tspan x="0" y="35.8">entropy = 0.577</tspan><tspan x="0" y="52.6">samples = 51</tspan><tspan x="0" y="69.4">value = [44, 7]</tspan><tspan x="0" y="86.2">class = Dead</tspan></text></g>
<g id="n82" class="n"><rect x="3180" y="801.6" width="105.1" height="78" fill="#9ccef2"/><text transform="translate(3232.6 801.6) scale(1 .84)"><tspan x="0" y="19">Age ≤ 30.0</tspan><tspan x="0" y="35.8">entropy = 0.918</tspan><tspan x="0" y="52.6">samples = 3</tspan><tspan x="0" y="69.4">value = [1, 2]</tspan><tspan x="0" y="86.2">class = Survive</tspan></text></g>
<g id="n83" class="n"><rect x="3417.2" y="801.6" width="104.9" height="78" fill="#f7d7c0"/><text transform="translate(3469.7 801.6) scale(1 .84)"><tspan x="0" y="19">Parch ≤ 1.5</tspan><tspan x="0" y="35.8">entropy = 0.974</tspan><tspan x="0" y="52.6">samples = 37</tspan><tspan x="0" y="69.4">value = [22, 15]</tspan><tspan x="0" y="86.2">class = Dead</tspan></text></g>
<g id="n84" class="n"><rect class="D" x="3541.1" y="808.45" width="91.1" height="64.3"/><text transform="translate(3586.7 808.45) scale(1 .84)"><tspan x="0" y="19">entropy = 0.0</tspan><tspan x="0" y="35.8">samples = 5</tspan><tspan x="0" y="52.6">value = [5, 0]</tspan><tspan x="0" y="69.4">class = Dead</tspan></text></g>
<g id="n85" class="n"><rect x="114.1" y="915.6" width="104.8" height="78" fill="#e6f3fc"/><text transform="translate(166.5 915.6) scale(1 .84)"><tspan x="0" y="19">Fare ≤ 20.8</tspan><tspan x="0" y="35.8">entropy = 0.997</tspan><tspan x="0" y="52.6">samples = 60</tspan><tspan x="0" y="69.4">value = [28, 32]</tspan><tspan x="0" y="86.2">class = Survive</tspan></text></g>
<g id="n86" class="n"><rect class="S" x="237.8" y="922.45" width="101.4" height="64.3"/><text transform="translate(288.5 922.45) scale(1 .84)"><tspan x="0" y="19">entropy = 0.0</tspan><tspan x="0" y="35.8">samples = 5</tspan><tspan x="0" y="52.6">value = [0, 5]</tspan><tspan x="0" y="69.4">class = Survive</tspan></text></g>
<g id="n87" class="n"><rect x="356.9" y="915.6" width="105.3" height="78" fill="#e78c4a"/><text transform="translate(409.6 915.6) scale(1 .84)"><tspan x="0" y="19">Fare ≤ 31.331</tspan><tspan x="0" y="35.8">entropy = 0.391</tspan><tspan x="0" y="52.6">samples = 13</tspan><tspan x="0" y="69.4">value = [12, 1]</tspan><tspan x="0" y="86.2">class = Dead</tspan></text></g>
<g id="n88" class="n"><rect x="479.8" y="915.6" width="105.2" height="78" fill="#9ccef2"/><text transform="translate(532.4 915.6) scale(1 .84)"><tspan x="0" y="19">Fare ≤ 26.24</tspan><tspan x="0" y="35.8">entropy = 0.918</tspan><tspan x="0" y="52.6">samples = 9</tspan><tspan x="0" y="69.4">value = [3, 6]</tspan><tspan x="0" y="86.2">class = Survive</tspan></text></g>
<g id="n89" class="n"><rect class="S" x="603.1" y="922.45" width="100.9" height="64.3"/><text transform="translate(653.6 922.45) scale(1 .84)"><tspan x="0" y="19">entropy = 0.0</tspan><tspan x="0" y="35.8">samples = 2</tspan><tspan x="0" y="52.6">value = [0, 2]</tspan><tspan x="0" y="69.4">class = Survive</tspan></text></g>
<g id="n90" class="n"><rect class="D" x="723.3" y="922.45" width="91" height="64.3"/><text transform="translate(768.8 922.45) scale(1 .84)"><tspan x="0" y="19">entropy = 0.0</tspan><tspan x="0" y="35.8">samples = 1</tspan><tspan x="0" y="52.6">value = [1, 0]</tspan><tspan x="0" y="69.4">class = Dead</tspan></text></g>
<g id="n91" class="n"><rect class="S" x="833.2" y="922.45" width="101" height="64.3"/><text transform="translate(883.7 922.45) scale(1 .84)"><tspan x="0" y="19">entropy = 0.0</tspan><tspan x="0" y="35.8">samples = 2</tspan><tspan x="0" y="52.6">value = [0, 2]</tspan><tspan x="0" y="69.4">class = Survive</tspan></text></g>
<g id="n92" class="n"><rect class="D" x="953.2" y="922.45" width="90.9" height="64.3"/><text transform="translate(998.7 922.45) scale(1 .84)"><tspan x="0" y="19">entropy = 0.0</tspan><tspan x="0" y="35.8">samples = 2</tspan><tspan x="0" y="52.6">value = [2, 0]</tspan><tspan x="0" y="69.4">class = Dead</tspan></text></g>
<g id="n93" class="n"><rect class="S" x="1063" y="922.45" width="101" height="64.3"/><text transform="translate(1113.5 922.45) scale(1 .84)"><tspan x="0" y="19">entropy = 0.0</tspan><tspan x="0" y="35.8">samples = 23</tspan><tspan x="0" y="52.6">value = [0, 23]</tspan><tspan x="0" y="69.4">class = Survive</tspan></text></g>
<g id="n94" class="n"><rect x="1182.1" y="915.6" width="104.8" height="78" fill="#58ace9"/><text transform="translate(1234.5 915.6) scale(1 .84)"><tspan x="0" y="19">Age ≤ 39.0</tspan><tspan x="0" y="35.8">entropy = 0.567</tspan><tspan x="0" y="52.6">samples = 15</tspan><tspan x="0" y="69.4">value = [2, 13]</tspan><tspan x="0" y="86.2">class = Survive</tspan></text></g>
<g id="n95" class="n"><rect class="D" x="1305.3" y="922.45" width="90.9" height="64.3"/><text transform="translate(1350.8 922.45) scale(1 .84)"><tspan x="0" y="19">entropy = 0.0</tspan><tspan x="0" y="35.8">samples = 1</tspan><tspan x="0" y="52.6">value = [1, 0]</tspan><tspan x="0" y="69.4">class = Dead</tspan></text></g>
<g id="n96" class="n"><rect class="S" x="1415.1" y="922.45" width="101" height="64.3"/><text transform="translate(1465.6 922.45) scale(1 .84)"><tspan x="0" y="19">entropy = 0.0</tspan><tspan x="0" y="35.8">samples = 1</tspan><tspan x="0" y="52.6">value = [0, 1]</tspan><tspan x="0" y="69.4">class = Survive</tspan></text></g>
<g id="n97" class="n"><rect class="S" x="1535.1" y="922.45" width="101" height="64.3"/><text transform="translate(1585.6 922.45) scale(1 .84)"><tspan x="0" y="19">entropy = 0.0</tspan><tspan x="0" y="35.8">samples = 1</tspan><tspan x="0" y="52.6">value = [0, 1]</tspan><tspan x="0" y="69.4">class = Survive</tspan></text></g>
<g id="n98" class="n"><rect class="D" x="1655" y="922.45" width="90.9" height="64.3"/><text transform="translate(1700.5 922.45) scale(1 .84)"><tspan x="0" y="19">entropy = 0.0</tspan><tspan x="0" y="35.8">samples = 2</tspan><tspan x="0" y="52.6">value = [2, 0]</tspan><tspan x="0" y="69.4">class = Dead</tspan></text></g>
<g id="n99" class="n"><rect x="1768.7" y="915.6" width="105.2" height="78" fill="#9ccef2"/><text transform="translate(1821.3 915.6) scale(1 .84)"><tspan x="0" y="19">Age ≤ 22.5</tspan><tspan x="0" y="35.8">entropy = 0.918</tspan><tspan x="0" y="52.6">samples = 3</tspan><tspan x="0" y="69.4">value = [1, 2]</tspan><tspan x="0" y="86.2">class = Survive</tspan></text></g>
<g id="n100" class="n"><rect x="1892" y="915.6" width="105" height="78" fill="#ea995e"/><text transform="translate(1944.5 915.6) scale(1 .84)"><tspan x="0" y="19">Fare ≤ 7.096</tspan><tspan x="0" y="35.8">entropy = 0.629</tspan><tspan x="0" y="52.6">samples = 57</tspan><tspan x="0" y="69.4">value = [48, 9]</tspan><tspan x="0" y="86.2">class = Dead</tspan></text></g>
<g id="n101" class="n"><rect class="S" x="2015.1" y="922.45" width="101" height="64.3"/><text transform="translate(2065.6 922.45) scale(1 .84)"><tspan x="0" y="19">entropy = 0.0</tspan><tspan x="0" y="35.8">samples = 1</tspan><tspan x="0" y="52.6">value = [0, 1]</tspan><tspan x="0" y="69.4">class = Survive</tspan></text></g>
<g id="n102" class="n"><rect class="W" x="2135.1" y="922.45" width="90.9" height="64.3"/><text transform="translate(2180.6 922.45) scale(1 .84)"><tspan x="0" y="19">entropy = 1.0</tspan><tspan x="0" y="35.8">samples = 2</tspan><tspan x="0" y="52.6">value = [1, 1]</tspan><tspan x="0" y="69.4">class = Dead</tspan></text></g>
<g id="n103" class="n"><rect class="W" x="2244.9" y="915.6" width="90.9" height="78"/><text transform="translate(2290.4 915.6) scale(1 .84)"><tspan x="0" y="19">SibSp ≤ 0.5</tspan><tspan x="0" y="35.8">entropy = 1.0</tspan><tspan x="0" y="52.6">samples = 10</tspan><tspan x="0" y="69.4">value = [5, 5]</tspan><tspan x="0" y="86.2">class = Dead</tspan></text></g>
<g id="n104" class="n"><rect class="D" x="2355.2" y="922.45" width="90.9" height="64.3"/><text transform="translate(2400.7 922.45) scale(1 .84)"><tspan x="0" y="19">entropy = 0.0</tspan><tspan x="0" y="35.8">samples = 2</tspan><tspan x="0" y="52.6">value = [2, 0]</tspan><tspan x="0" y="69.4">class = Dead</tspan></text></g>
<g id="n105" class="n"><rect class="D" x="2464.6" y="922.45" width="98.1" height="64.3"/><text transform="translate(2513.7 922.45) scale(1 .84)"><tspan x="0" y="19">entropy = 0.0</tspan><tspan x="0" y="35.8">samples = 11</tspan><tspan x="0" y="52.6">value = [11, 0]</tspan><tspan x="0" y="69.4">class = Dead</tspan></text></g>
<g id="n106" class="n"><rect x="2581.5" y="915.6" width="104.8" height="78" fill="#eb9d65"/><text transform="translate(2633.9 915.6) scale(1 .84)"><tspan x="0" y="19">Age ≤ 33.0</tspan><tspan x="0" y="35.8">entropy = 0.684</tspan><tspan x="0" y="52.6">samples = 11</tspan><tspan x="0" y="69.4">value = [9, 2]</tspan><tspan x="0" y="86.2">class = Dead</tspan></text></g>
<g id="n107" class="n"><rect class="D" x="2704.4" y="922.45" width="98" height="64.3"/><text transform="translate(2753.4 922.45) scale(1 .84)"><tspan x="0" y="19">entropy = 0.0</tspan><tspan x="0" y="35.8">samples = 12</tspan><tspan x="0" y="52.6">value = [12, 0]</tspan><tspan x="0" y="69.4">class = Dead</tspan></text></g>
<g id="n108" class="n"><rect x="2820.5" y="915.6" width="98.1" height="78" fill="#ea9a61"/><text transform="translate(2869.6 915.6) scale(1 .84)"><tspan x="0" y="19">Pclass_2 ≤ 0.5</tspan><tspan x="0" y="35.8">entropy = 0.65</tspan><tspan x="0" y="52.6">samples = 6</tspan><tspan x="0" y="69.4">value = [5, 1]</tspan><tspan x="0" y="86.2">class = Dead</tspan></text></g>
<g id="n109" class="n"><rect x="2940.9" y="915.6" width="105.2" height="78" fill="#f6d5bd"/><text transform="translate(2993.5 915.6) scale(1 .84)"><tspan x="0" y="19">Pclass_2 ≤ 0.5</tspan><tspan x="0" y="35.8">entropy = 0.971</tspan><tspan x="0" y="52.6">samples = 5</tspan><tspan x="0" y="69.4">value = [3, 2]</tspan><tspan x="0" y="86.2">class = Dead</tspan></text></g>
<g id="n110" class="n"><rect x="3063.8" y="915.6" width="104.8" height="78" fill="#e89051"/><text transform="translate(3116.2 915.6) scale(1 .84)"><tspan x="0" y="19">Fare ≤ 13.25</tspan><tspan x="0" y="35.8">entropy = 0.496</tspan><tspan x="0" y="52.6">samples = 46</tspan><tspan x="0" y="69.4">value = [41, 5]</tspan><tspan x="0" y="86.2">class = Dead</tspan></text></g>
<g id="n111" class="n"><rect class="D" x="3187.2" y="922.45" width="91" height="64.3"/><text transform="translate(3232.7 922.45) scale(1 .84)"><tspan x="0" y="19">entropy = 0.0</tspan><tspan x="0" y="35.8">samples = 1</tspan><tspan x="0" y="52.6">value = [1, 0]</tspan><tspan x="0" y="69.4">class = Dead</tspan></text></g>
<g id="n112" class="n"><rect class="S" x="3297.2" y="922.45" width="101" height="64.3"/><text transform="translate(3347.7 922.45) scale(1 .84)"><tspan x="0" y="19">entropy = 0.0</tspan><tspan x="0" y="35.8">samples = 2</tspan><tspan x="0" y="52.6">value = [0, 2]</tspan><tspan x="0" y="69.4">class = Survive</tspan></text></g>
<g id="n113" class="n"><rect x="3417.2" y="915.6" width="104.9" height="78" fill="#f4cbae"/><text transform="translate(3469.7 915.6) scale(1 .84)"><tspan x="0" y="19">Age ≤ 24.5</tspan><tspan x="0" y="35.8">entropy = 0.952</tspan><tspan x="0" y="52.6">samples = 35</tspan><tspan x="0" y="69.4">value = [22, 13]</tspan><tspan x="0" y="86.2">class = Dead</tspan></text></g>
<g id="n114" class="n"><rect class="S" x="3541.1" y="922.45" width="101.1" height="64.3"/><text transform="translate(3591.7 922.45) scale(1 .84)"><tspan x="0" y="19">entropy = 0.0</tspan><tspan x="0" y="35.8">samples = 2</tspan><tspan x="0" y="52.6">value = [0, 2]</tspan><tspan x="0" y="69.4">class = Survive</tspan></text></g>
<g id="n115" class="n"><rect x="4.2" y="1030" width="104.8" height="64.3" fill="#d4eaf9"/><text transform="translate(56.6 1030) scale(1 .84)"><tspan x="0" y="19">entropy = 0.989</tspan><tspan x="0" y="35.8">samples = 57</tspan><tspan x="0" y="52.6">value = [25, 32]</tspan><tspan x="0" y="69.4">class = Survive</tspan></text></g>
<g id="n116" class="n"><rect class="D" x="128.4" y="1030" width="90.9" height="64.3"/><text transform="translate(173.9 1030) scale(1 .84)"><tspan x="0" y="19">entropy = 0.0</tspan><tspan x="0" y="35.8">samples = 3</tspan><tspan x="0" y="52.6">value = [3, 0]</tspan><tspan x="0" y="69.4">class = Dead</tspan></text></g>
<g id="n117" class="n"><rect class="D" x="249.6" y="1030" width="98.1" height="64.3"/><text transform="translate(298.7 1030) scale(1 .84)"><tspan x="0" y="19">entropy = 0.0</tspan><tspan x="0" y="35.8">samples = 11</tspan><tspan x="0" y="52.6">value = [11, 0]</tspan><tspan x="0" y="69.4">class = Dead</tspan></text></g>
<g id="n118" class="n"><rect class="W" x="366.6" y="1030" width="90.5" height="64.3"/><text transform="translate(411.9 1030) scale(1 .84)"><tspan x="0" y="19">entropy = 1.0</tspan><tspan x="0" y="35.8">samples = 2</tspan><tspan x="0" y="52.6">value = [1, 1]</tspan><tspan x="0" y="69.4">class = Dead</tspan></text></g>
<g id="n119" class="n"><rect class="S" x="479.8" y="1030" width="101.5" height="64.3"/><text transform="translate(530.6 1030) scale(1 .84)"><tspan x="0" y="19">entropy = 0.0</tspan><tspan x="0" y="35.8">samples = 3</tspan><tspan x="0" y="52.6">value = [0, 3]</tspan><tspan x="0" y="69.4">class = Survive</tspan></text></g>
<g id="n120" class="n"><rect class="W" x="600.2" y="1030" width="90.7" height="64.3"/><text transform="translate(645.6 1030) scale(1 .84)"><tspan x="0" y="19">entropy = 1.0</tspan><tspan x="0" y="35.8">samples = 6</tspan><tspan x="0" y="52.6">value = [3, 3]</tspan><tspan x="0" y="69.4">class = Dead</tspan></text></g>
<g id="n121" class="n"><rect class="D" x="1131.2" y="1030" width="90.9" height="64.3"/><text transform="translate(1176.7 1030) scale(1 .84)"><tspan x="0" y="19">entropy = 0.0</tspan><tspan x="0" y="35.8">samples = 1</tspan><tspan x="0" y="52.6">value = [1, 0]</tspan><tspan x="0" y="69.4">class = Dead</tspan></text></g>
<g id="n122" class="n"><rect x="1240.2" y="1030" width="105" height="64.3" fill="#48a5e7"/><text transform="translate(1292.7 1030) scale(1 .84)"><tspan x="0" y="19">entropy = 0.371</tspan><tspan x="0" y="35.8">samples = 14</tspan><tspan x="0" y="52.6">value = [1, 13]</tspan><tspan x="0" y="69.4">class = Survive</tspan></text></g>
<g id="n123" class="n"><rect class="D" x="1663.4" y="1030" width="90.6" height="64.3"/><text transform="translate(1708.7 1030) scale(1 .84)"><tspan x="0" y="19">entropy = 0.0</tspan><tspan x="0" y="35.8">samples = 1</tspan><tspan x="0" y="52.6">value = [1, 0]</tspan><tspan x="0" y="69.4">class = Dead</tspan></text></g>
<g id="n124" class="n"><rect class="S" x="1772.9" y="1030" width="101" height="64.3"/><text transform="translate(1823.4 1030) scale(1 .84)"><tspan x="0" y="19">entropy = 0.0</tspan><tspan x="0" y="35.8">samples = 2</tspan><tspan x="0" y="52.6">value = [0, 2]</tspan><tspan x="0" y="69.4">class = Survive</tspan></text></g>
<g id="n125" class="n"><rect class="D" x="1897" y="1030" width="91.2" height="64.3"/><text transform="translate(1942.6 1030) scale(1 .84)"><tspan x="0" y="19">entropy = 0.0</tspan><tspan x="0" y="35.8">samples = 5</tspan><tspan x="0" y="52.6">value = [5, 0]</tspan><tspan x="0" y="69.4">class = Dead</tspan></text></g>
<g id="n126" class="n"><rect x="2006.3" y="1030" width="104.8" height="64.3" fill="#ea9b62"/><text transform="translate(2058.7 1030) scale(1 .84)"><tspan x="0" y="19">entropy = 0.665</tspan><tspan x="0" y="35.8">samples = 52</tspan><tspan x="0" y="52.6">value = [43, 9]</tspan><tspan x="0" y="69.4">class = Dead</tspan></text></g>
<g id="n127" class="n"><rect x="2175.1" y="1030" width="104.8" height="64.3" fill="#fae6d7"/><text transform="translate(2227.5 1030) scale(1 .84)"><tspan x="0" y="19">entropy = 0.991</tspan><tspan x="0" y="35.8">samples = 9</tspan><tspan x="0" y="52.6">value = [5, 4]</tspan><tspan x="0" y="69.4">class = Dead</tspan></text></g>
<g id="n128" class="n"><rect class="S" x="2298" y="1030" width="101" height="64.3"/><text transform="translate(2348.5 1030) scale(1 .84)"><tspan x="0" y="19">entropy = 0.0</tspan><tspan x="0" y="35.8">samples = 1</tspan><tspan x="0" y="52.6">value = [0, 1]</tspan><tspan x="0" y="69.4">class = Survive</tspan></text></g>
<g id="n129" class="n"><rect class="S" x="2463" y="1030" width="101" height="64.3"/><text transform="translate(2513.5 1030) scale(1 .84)"><tspan x="0" y="19">entropy = 0.0</tspan><tspan x="0" y="35.8">samples = 1</tspan><tspan x="0" y="52.6">value = [0, 1]</tspan><tspan x="0" y="69.4">class = Survive</tspan></text></g>
<g id="n130" class="n"><rect x="2581.9" y="1030" width="105.2" height="64.3" fill="#e88f4f"/><text transform="translate(2634.5 1030) scale(1 .84)"><tspan x="0" y="19">entropy = 0.469</tspan><tspan x="0" y="35.8">samples = 10</tspan><tspan x="0" y="52.6">value = [9, 1]</tspan><tspan x="0" y="69.4">class = Dead</tspan></text></g>
<g id="n131" class="n"><rect class="D" x="2706" y="1030" width="91" height="64.3"/><text transform="translate(2751.5 1030) scale(1 .84)"><tspan x="0" y="19">entropy = 0.0</tspan><tspan x="0" y="35.8">samples = 3</tspan><tspan x="0" y="52.6">value = [3, 0]</tspan><tspan x="0" y="69.4">class = Dead</tspan></text></g>
<g id="n132" class="n"><rect x="2815.1" y="1030" width="104.8" height="64.3" fill="#f2c09c"/><text transform="translate(2867.5 1030) scale(1 .84)"><tspan x="0" y="19">entropy = 0.918</tspan><tspan x="0" y="35.8">samples = 3</tspan><tspan x="0" y="52.6">value = [2, 1]</tspan><tspan x="0" y="69.4">class = Dead</tspan></text></g>
<g id="n133" class="n"><rect class="S" x="2938" y="1030" width="101" height="64.3"/><text transform="translate(2988.5 1030) scale(1 .84)"><tspan x="0" y="19">entropy = 0.0</tspan><tspan x="0" y="35.8">samples = 2</tspan><tspan x="0" y="52.6">value = [0, 2]</tspan><tspan x="0" y="69.4">class = Survive</tspan></text></g>
<g id="n134" class="n"><rect class="D" x="3058.4" y="1030" width="90.5" height="64.3"/><text transform="translate(3103.7 1030) scale(1 .84)"><tspan x="0" y="19">entropy = 0.0</tspan><tspan x="0" y="35.8">samples = 3</tspan><tspan x="0" y="52.6">value = [3, 0]</tspan><tspan x="0" y="69.4">class = Dead</tspan></text></g>
<g id="n135" class="n"><rect x="3167" y="1030" width="105.1" height="64.3" fill="#e99559"/><text transform="translate(3219.6 1030) scale(1 .84)"><tspan x="0" y="19">entropy = 0.581</tspan><tspan x="0" y="35.8">samples = 36</tspan><tspan x="0" y="52.6">value = [31, 5]</tspan><tspan x="0" y="69.4">class = Dead</tspan></text></g>
<g id="n136" class="n"><rect class="D" x="3290.7" y="1030" width="98" height="64.3"/><text transform="translate(3339.7 1030) scale(1 .84)"><tspan x="0" y="19">entropy = 0.0</tspan><tspan x="0" y="35.8">samples = 10</tspan><tspan x="0" y="52.6">value = [10, 0]</tspan><tspan x="0" y="69.4">class = Dead</tspan></text></g>
<g id="n137" class="n"><rect class="D" x="3415.5" y="1030" width="90.7" height="64.3"/><text transform="translate(3460.9 1030) scale(1 .84)"><tspan x="0" y="19">entropy = 0.0</tspan><tspan x="0" y="35.8">samples = 4</tspan><tspan x="0" y="52.6">value = [4, 0]</tspan><tspan x="0" y="69.4">class = Dead</tspan></text></g>
<g id="n138" class="n"><rect x="3525.1" y="1030" width="105" height="64.3" fill="#f8dcc8"/><text transform="translate(3577.6 1030) scale(1 .84)"><tspan x="0" y="19">entropy = 0.981</tspan><tspan x="0" y="35.8">samples = 31</tspan><tspan x="0" y="52.6">value = [18, 13]</tspan><tspan x="0" y="69.4">class = Dead</tspan></text></g>
</svg>
